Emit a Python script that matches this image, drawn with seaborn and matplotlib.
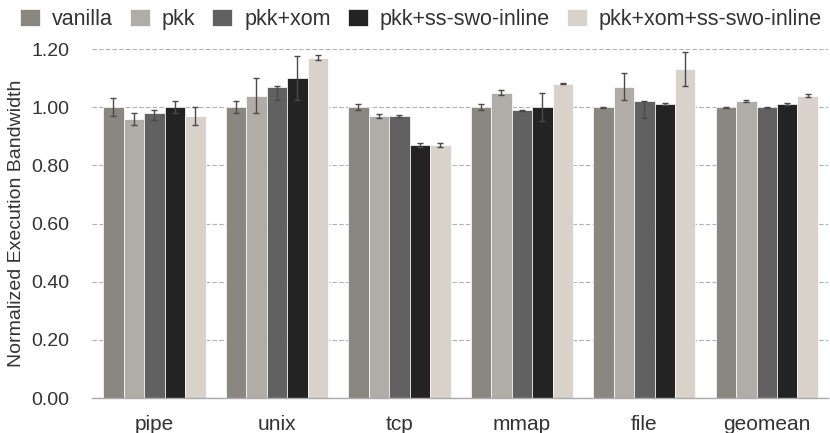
import numpy as np
import pandas as pd
import matplotlib
matplotlib.use("Agg")
import matplotlib.pyplot as plt
import seaborn as sns

benchmarks = ["pipe", "unix", "tcp", "mmap", "file", "geomean"]
configs = ["vanilla", "pkk", "pkk+xom", "pkk+ss-swo-inline", "pkk+xom+ss-swo-inline"]

# normalized bandwidth per config (order follows benchmarks)
vanilla = [1.00, 1.00, 1.00, 1.00, 1.00, 1.00]
pkk = [0.96, 1.04, 0.97, 1.05, 1.07, 1.02]
pkk_xom = [0.98, 1.07, 0.97, 0.99, 1.02, 1.00]
pkk_ss = [1.00, 1.10, 0.87, 1.00, 1.01, 1.01]
pkk_xom_ss = [0.97, 1.17, 0.87, 1.08, 1.13, 1.04]

# error bars (lower, upper)
err_lo = {
    "vanilla": [0.03, 0.02, 0.01, 0.01, 0.002, 0.002],
    "pkk": [0.02, 0.06, 0.008, 0.008, 0.047, 0.003],
    "pkk+xom": [0.025, 0.047, 0.003, 0.002, 0.058, 0.002],
    "pkk+ss-swo-inline": [0.02, 0.077, 0.008, 0.048, 0.003, 0.003],
    "pkk+xom+ss-swo-inline": [0.03, 0.008, 0.008, 0.002, 0.057, 0.004],
}
err_hi = {
    "vanilla": [0.03, 0.02, 0.01, 0.01, 0.002, 0.002],
    "pkk": [0.02, 0.06, 0.008, 0.008, 0.047, 0.003],
    "pkk+xom": [0.01, 0.002, 0.003, 0.002, 0.002, 0.002],
    "pkk+ss-swo-inline": [0.02, 0.077, 0.008, 0.048, 0.003, 0.003],
    "pkk+xom+ss-swo-inline": [0.03, 0.008, 0.008, 0.002, 0.06, 0.004],
}

colors = ["#8a8680", "#b0aca6", "#616161", "#232323", "#d8d2cb"]

values = [vanilla, pkk, pkk_xom, pkk_ss, pkk_xom_ss]
rows = []
for cfg, vals in zip(configs, values):
    for b, v in zip(benchmarks, vals):
        rows.append({"benchmark": b, "config": cfg, "value": v})
df = pd.DataFrame(rows)

sns.set_theme(style="white")
plt.rcParams["font.family"] = ["Liberation Sans", "DejaVu Sans"]

fig = plt.figure(figsize=(8.3, 4.33), dpi=100)
ax = fig.add_axes([0.1108, 0.0808, 0.8868, 0.806])

sns.barplot(data=df, x="benchmark", y="value", hue="config", order=benchmarks,
            hue_order=configs, palette=colors, errorbar=None, width=0.836,
            edgecolor="white", linewidth=0.5, saturation=1, ax=ax)

for cont, cfg in zip(ax.containers, configs):
    xs = [p.get_x() + p.get_width() / 2 for p in cont.patches]
    ys = [p.get_height() for p in cont.patches]
    ax.errorbar(xs, ys, yerr=[err_lo[cfg], err_hi[cfg]], fmt="none",
                ecolor="#4a4a4a", elinewidth=1.0, capsize=2.5, capthick=1.0)

ax.set_ylim(0, 1.2)
ax.set_xlim(-0.51, 5.5)
ax.set_yticks(np.arange(0, 1.21, 0.2))
ax.set_yticklabels([f"{t:.2f}" for t in np.arange(0, 1.21, 0.2)])
ax.yaxis.grid(True, linestyle=(0, (4, 2)), color="#b0b0b0", linewidth=0.8)
ax.set_axisbelow(True)
for s in ["top", "right", "left"]:
    ax.spines[s].set_visible(False)
ax.spines["bottom"].set_color("#aaaaaa")
ax.spines["bottom"].set_linewidth(1.0)
ax.tick_params(axis="both", length=0, colors="#333333")
ax.tick_params(axis="y", pad=16, labelsize=14)
ax.tick_params(axis="x", pad=12, labelsize=15)
ax.set_xlabel("")
ax.set_ylabel("Normalized Execution Bandwidth", fontsize=14, color="#333333", labelpad=5)

ax.legend(loc="upper left", bbox_to_anchor=(-0.11, 1.14), ncol=5, frameon=False,
          fontsize=15.5, handlelength=0.93, handleheight=0.84, handletextpad=0.56,
          columnspacing=0.79, borderaxespad=0, labelcolor="#333333")

fig.savefig("out.png", dpi=100)
